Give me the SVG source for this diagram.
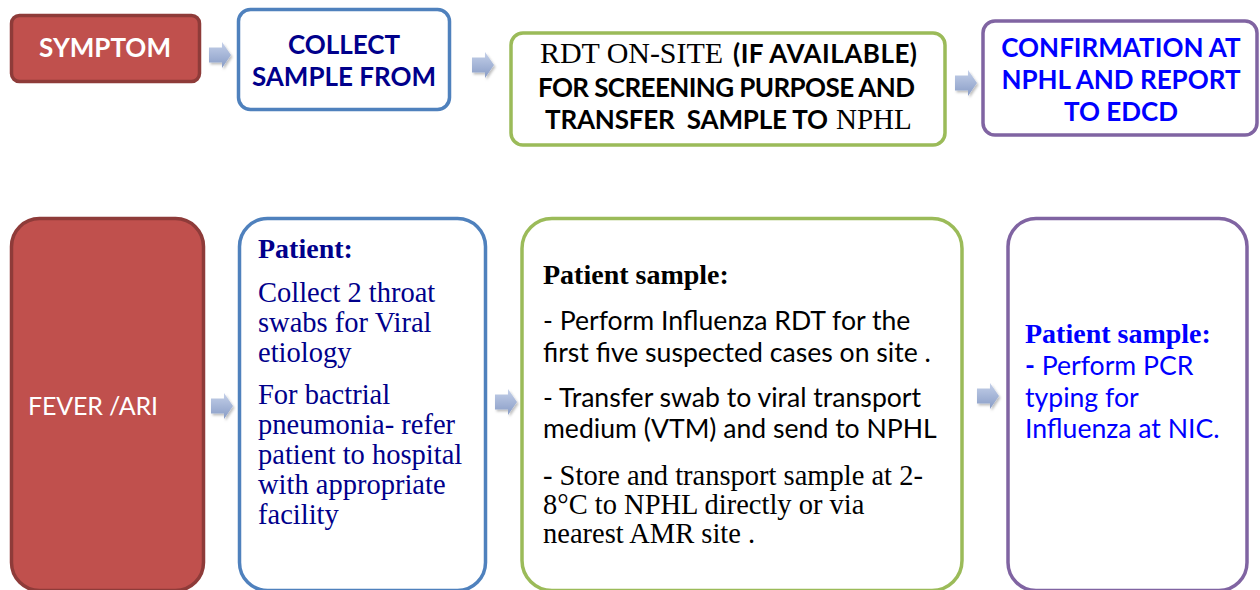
<svg xmlns="http://www.w3.org/2000/svg" width="1260" height="590" viewBox="0 0 1260 590">
  <style>
    .box { fill: #ffffff; stroke-width: 3.5; }
    .red { fill: #C0504D; stroke: #8E3B39; stroke-width: 3.5; }
    .blue { stroke: #4F81BD; }
    .green { stroke: #9BBB59; }
    .purple { stroke: #8064A2; }
    .sans { font-family: Lato, "Open Sans", "Liberation Sans", sans-serif; }
    .serif { font-family: "Liberation Serif", "Times New Roman", serif; }
    .b { font-weight: bold; }
    .head { font-size: 26px; font-weight: bold; text-anchor: middle; }
    .navy { fill: #00008B; }
    .pure { fill: #0000FF; }
    .ink { fill: #000000; }
    .white { fill: #ffffff; }
    .body { font-size: 28.5px; }
    .cal { font-size: 26.6px; }
  </style>
  <defs>
    <linearGradient id="arrowFill" x1="0" y1="0" x2="0" y2="1">
      <stop offset="0" stop-color="#C4D0E9"/>
      <stop offset="1" stop-color="#889CC6"/>
    </linearGradient>
    <filter id="soft" x="-30%" y="-30%" width="170%" height="170%">
      <feDropShadow dx="1.5" dy="2" stdDeviation="1.2" flood-color="#000000" flood-opacity="0.25"/>
    </filter>
    <path id="arrow" d="M0,5.5 H13 V0 L22,13 L13,26 V20.5 H0 Z" fill="url(#arrowFill)" filter="url(#soft)"/>
  </defs>

  <!-- flow arrows between the steps -->
  <g id="connectors">
    <use href="#arrow" transform="translate(209,42)"/>
    <use href="#arrow" transform="translate(472,52)"/>
    <use href="#arrow" transform="translate(955,70)"/>
    <use href="#arrow" transform="translate(211,393)"/>
    <use href="#arrow" transform="translate(495,389)"/>
    <use href="#arrow" transform="translate(977,383)"/>
  </g>

  <!-- header row -->
  <g id="symptom">
    <rect class="red" x="11.5" y="15.5" width="188" height="66" rx="8"/>
    <text class="sans head white" x="105" y="57">SYMPTOM</text>
  </g>

  <g id="collect">
    <rect class="box blue" x="238.5" y="9.5" width="211" height="100" rx="12"/>
    <text class="sans head navy" x="344" y="54">COLLECT</text>
    <text class="sans head navy" x="344" y="86">SAMPLE FROM</text>
  </g>

  <g id="rdt">
    <rect class="box green" x="511" y="33" width="434" height="112" rx="12"/>
    <text class="serif ink" x="540" y="63" font-size="30" textLength="183">RDT ON-SITE</text>
    <text class="sans b ink" x="733" y="63" font-size="26" textLength="184">(IF AVAILABLE)</text>
    <text class="sans ink b" x="538" y="97" font-size="26" textLength="377">FOR SCREENING PURPOSE AND</text>
    <text class="sans ink b" x="545" y="129" font-size="26" xml:space="preserve" textLength="283">TRANSFER  SAMPLE TO</text>
    <text class="serif ink" x="836" y="129" font-size="29">NPHL</text>
  </g>

  <g id="confirmation">
    <rect class="box purple" x="983" y="21" width="274" height="114" rx="12"/>
    <text class="sans head pure" x="1121" y="57">CONFIRMATION AT</text>
    <text class="sans head pure" x="1121" y="89">NPHL AND REPORT</text>
    <text class="sans head pure" x="1121" y="121">TO EDCD</text>
  </g>

  <!-- detail row -->
  <g id="fever">
    <rect class="red" x="11.5" y="218.5" width="192" height="372" rx="28"/>
    <text class="sans white" x="28" y="415" font-size="25" textLength="130">FEVER /ARI</text>
  </g>

  <g id="patient">
    <rect class="box blue" x="239.5" y="218.5" width="246" height="372" rx="28"/>
    <text class="serif b navy" x="258" y="258" font-size="28">Patient:</text>
    <g class="serif body navy">
      <text x="258" y="302">Collect 2 throat</text>
      <text x="258" y="332">swabs for Viral</text>
      <text x="258" y="362">etiology</text>
      <text x="258" y="404">For bactrial</text>
      <text x="258" y="434">pneumonia- refer</text>
      <text x="258" y="464">patient to hospital</text>
      <text x="258" y="494">with appropriate</text>
      <text x="258" y="524">facility</text>
    </g>
  </g>

  <g id="sample">
    <rect class="box green" x="522" y="218.5" width="440" height="372" rx="30"/>
    <text class="serif b ink" x="543" y="284" font-size="28">Patient sample:</text>
    <g class="sans cal ink">
      <text x="543" y="330">- Perform Influenza RDT for the</text>
      <text x="543" y="362">first five suspected cases on site .</text>
      <text x="543" y="407">- Transfer swab to viral transport</text>
      <text x="543" y="438">medium (VTM) and send to NPHL</text>
    </g>
    <g class="serif body ink">
      <text x="543" y="485">- Store and transport sample at 2-</text>
      <text x="543" y="514">8°C to NPHL directly or via</text>
      <text x="543" y="543">nearest AMR site .</text>
    </g>
  </g>

  <g id="pcr">
    <rect class="box purple" x="1008" y="218.5" width="239" height="372" rx="28"/>
    <text class="serif b pure" x="1025" y="343" font-size="28">Patient sample:</text>
    <g class="sans cal pure">
      <text x="1025" y="375"><tspan class="b">-</tspan> Perform PCR</text>
      <text x="1025" y="407">typing for</text>
      <text x="1025" y="438">Influenza at NIC.</text>
    </g>
  </g>
</svg>
